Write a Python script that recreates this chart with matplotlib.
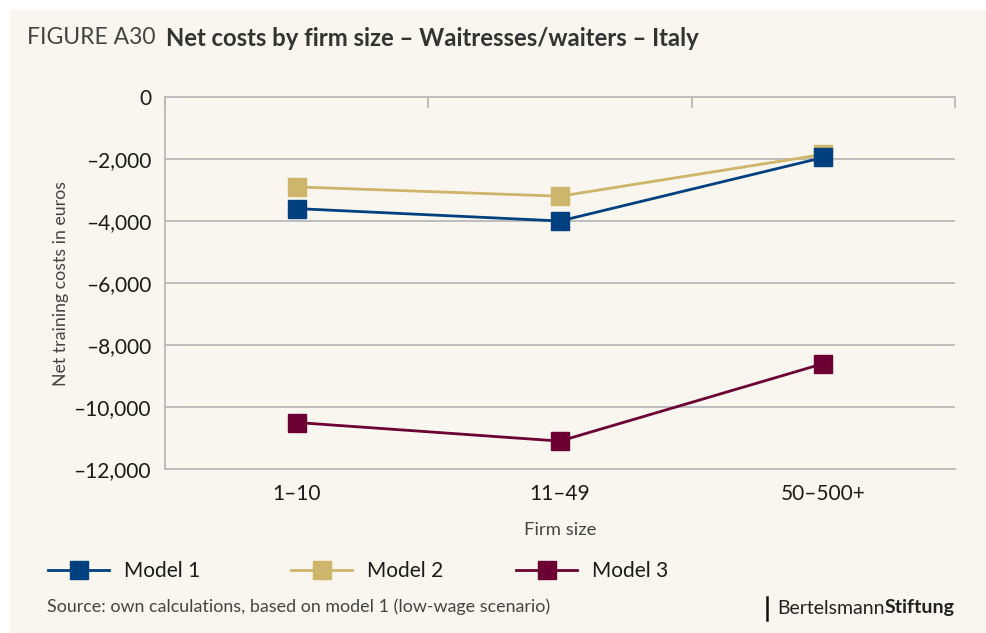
import matplotlib
matplotlib.use("Agg")
import matplotlib.pyplot as plt
from matplotlib.lines import Line2D
from matplotlib.patches import Rectangle
from matplotlib.ticker import FuncFormatter

categories = ["1\u201310", "11\u201349", "50\u2013500+"]
model1 = [-3600, -4000, -1950]
model2 = [-2900, -3200, -1850]
model3 = [-10500, -11100, -8600]
series_names = ["Model 1", "Model 2", "Model 3"]
yticks = [0, -2000, -4000, -6000, -8000, -10000, -12000]

colors = ["#00407e", "#cdb56b", "#6c0033"]
zorders = [4, 3, 4]
bg = "#f8f6ee"
grid_c = "#b9b9b9"
text_c = "#1a1a1a"

plt.rcParams["font.family"] = ["Lato", "DejaVu Sans"]

fig = plt.figure(figsize=(9.86, 6.33), dpi=100)
fig.patch.set_facecolor("white")
fig.patches.append(Rectangle((10/986, 0), 1, 1 - 10/633, transform=fig.transFigure,
                             facecolor=bg, edgecolor="none", zorder=-10))

ax = fig.add_axes([165/986, 1 - 469/633, (955-165)/986, (469-97)/633])
ax.set_facecolor(bg)

x = list(range(len(categories)))
for vals, c, name, z in zip([model1, model2, model3], colors, series_names, zorders):
    ax.plot(x, vals, color=c, lw=2, marker="s", markersize=12.5, label=name,
            solid_capstyle="butt", zorder=z, clip_on=False)

ax.set_xlim(-0.5, len(categories) - 0.5)
ax.set_ylim(-12000, 0)
ax.set_yticks(yticks)
ax.yaxis.set_major_formatter(FuncFormatter(
    lambda v, p: ("\u2013" if v < 0 else "") + f"{abs(int(v)):,}"))
ax.set_xticks(x)
ax.set_xticklabels(categories)
ax.tick_params(axis="both", length=0, labelsize=15, colors=text_c)
ax.tick_params(axis="y", pad=10)
ax.tick_params(axis="x", pad=11)
for v in yticks[1:-1]:
    ax.axhline(v, color=grid_c, lw=1.3, zorder=1)

for s in ["left", "bottom", "top"]:
    ax.spines[s].set_color(grid_c)
    ax.spines[s].set_linewidth(1.3)
ax.spines["right"].set_visible(False)

# top tick marks at category boundaries
sec = ax.secondary_xaxis("top")
sec.set_xticks([-0.5 + i for i in range(len(categories) + 1)])
sec.set_xticklabels([])
sec.tick_params(direction="in", length=8, width=1.3, color=grid_c)
sec.spines["top"].set_visible(False)

ax.set_ylabel("Net training costs in euros", fontsize=12.8, color="#444444",
              labelpad=3)
ax.set_xlabel("Firm size", fontsize=13.3, color="#444444", labelpad=13)

# Title
t1 = fig.text(27/986, 1 - 38/633, "FIGURE A30", fontsize=16.5,
              color="#444444", va="center", ha="left")
fig.canvas.draw()
r = fig.canvas.get_renderer()
bb = t1.get_window_extent(r)
fig.text((bb.x1 + 11)/986, 1 - 38/633, "Net costs by firm size \u2013 Waitresses/waiters \u2013 Italy",
         fontsize=17.2, fontweight="bold", color="#333333", va="center", ha="left")

# Legend entries
leg_x = [40/986, 283/986, 508/986]
for xi, c, name in zip(leg_x, colors, series_names):
    h = Line2D([], [], color=c, lw=2, marker="s", markersize=12.5)
    lg = fig.legend([h], [name], loc="center left", bbox_to_anchor=(xi, 1 - 571/633),
                    frameon=False, fontsize=15, handlelength=2.9, handletextpad=0.75,
                    borderaxespad=0)
    for t in lg.get_texts():
        t.set_color(text_c)

fig.text(47/986, 1 - 607/633, "Source: own calculations, based on model 1 (low-wage scenario)",
         fontsize=12.9, color="#444444", va="center", ha="left")

# Logo
fig.add_artist(Line2D([767/986, 767/986], [1 - 597/633, 1 - 620/633], color="#111111", lw=1.8,
                      transform=fig.transFigure))
tb = fig.text(955/986, 1 - 608/633, "Stiftung", fontsize=14, fontweight="bold",
              color="#222222", va="center", ha="right")
fig.canvas.draw()
bb2 = tb.get_window_extent(fig.canvas.get_renderer())
fig.text((bb2.x0 - 0.5)/986, 1 - 608/633, "Bertelsmann", fontsize=14,
         color="#222222", va="center", ha="right")

fig.savefig("out.png", dpi=100, facecolor=fig.get_facecolor())
